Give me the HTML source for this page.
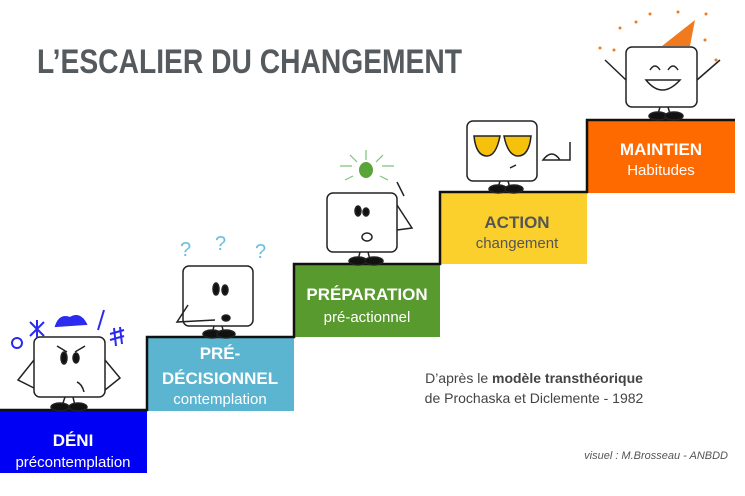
<!DOCTYPE html>
<html><head><meta charset="utf-8"><style>
html,body{margin:0;padding:0;background:#fff;width:745px;height:496px;overflow:hidden}
svg{display:block;font-family:"Liberation Sans",sans-serif}
</style></head><body>
<svg width="745" height="496" viewBox="0 0 745 496">
<text x="37" y="73" font-size="34" font-weight="bold" fill="#555a5e" textLength="425" lengthAdjust="spacingAndGlyphs">L’ESCALIER DU CHANGEMENT</text>

<!-- steps -->
<rect x="0" y="410" width="147" height="63" fill="#0000f5"/>
<rect x="147" y="337" width="147" height="74" fill="#5bb5d0"/>
<rect x="294" y="264" width="146" height="73" fill="#599a2e"/>
<rect x="440" y="192" width="147" height="72" fill="#fcd02c"/>
<rect x="587" y="120" width="148" height="73" fill="#ff6a00"/>
<polyline points="0,410 147,410 147,337 294,337 294,264 440,264 440,192 587,192 587,120 735,120" fill="none" stroke="#111" stroke-width="2.5"/>

<g text-anchor="middle" fill="#fff">
<text x="73" y="446" font-size="17" font-weight="bold">DÉNI</text>
<text x="73" y="467" font-size="15">précontemplation</text>
<text x="220" y="359" font-size="17" font-weight="bold">PRÉ-</text>
<text x="220" y="384" font-size="17" font-weight="bold">DÉCISIONNEL</text>
<text x="220" y="404" font-size="15">contemplation</text>
<text x="367" y="300" font-size="17" font-weight="bold">PRÉPARATION</text>
<text x="367" y="322" font-size="15">pré-actionnel</text>
<text x="517" y="228" font-size="17" font-weight="bold" fill="#555">ACTION</text>
<text x="517" y="248" font-size="15" fill="#555">changement</text>
<text x="661" y="155" font-size="17" font-weight="bold">MAINTIEN</text>
<text x="661" y="175" font-size="15">Habitudes</text>
</g>

<text x="534" y="383" text-anchor="middle" font-size="14" fill="#444">D’après le <tspan font-weight="bold">modèle transthéorique</tspan></text>
<text x="534" y="403" text-anchor="middle" font-size="14" fill="#444">de Prochaska et Diclemente - 1982</text>
<text x="728" y="459" text-anchor="end" font-size="11" font-style="italic" fill="#555">visuel : M.Brosseau - ANBDD</text>

<!-- characters -->
<g stroke="#222" stroke-width="1.5" fill="#fff">
<!-- deni -->
<g>
<line x1="65" y1="397" x2="62" y2="406"/><line x1="73" y1="397" x2="75" y2="406"/>
<ellipse cx="60" cy="407" rx="9" ry="4" fill="#111"/><ellipse cx="78" cy="407" rx="9" ry="4" fill="#111"/>
<polyline points="34,360 18,380 34,388" fill="none"/><polyline points="105,360 120,378 105,390" fill="none"/>
<rect x="34" y="337" width="71" height="60" rx="6"/>
<ellipse cx="64" cy="358" rx="3" ry="6" fill="#111"/><ellipse cx="76" cy="358" rx="3" ry="5" fill="#111"/>
<path d="M57 346 L67 352 M85 346 L75 352 M77 382 Q82 384 84 392" fill="none"/>
</g>
<g fill="none" stroke="#2a2af0" stroke-width="2">
<circle cx="17" cy="343" r="5"/><path d="M30 322 L44 336 M44 322 L30 336 M37 320 V338"/>
<path d="M56 326 Q60 314 70 318 Q80 312 86 324 Z" fill="#2a2af0"/>
<path d="M104 310 L98 330"/><path d="M110 334 L124 330 M110 340 L124 336 M114 328 L116 346 M120 327 L122 344"/>
</g>
<!-- pre-dec -->
<g>
<line x1="214" y1="326" x2="212" y2="334"/><line x1="222" y1="326" x2="224" y2="334"/>
<ellipse cx="212" cy="334" rx="9" ry="4" fill="#111"/><ellipse cx="226" cy="334" rx="9" ry="4" fill="#111"/>
<rect x="183" y="266" width="70" height="60" rx="6"/>
<polyline points="188,305 177,322 215,320" fill="none"/>
<ellipse cx="216" cy="289" rx="3" ry="6" fill="#111"/><ellipse cx="225" cy="290" rx="3" ry="5" fill="#111"/>
<ellipse cx="226" cy="318" rx="4" ry="3" fill="#111"/>
</g>
<g fill="#6cc0df" font-size="20" stroke="none"><text x="180" y="256">?</text><text x="215" y="250">?</text><text x="255" y="258">?</text></g>
<!-- prep -->
<g>
<line x1="360" y1="252" x2="358" y2="260"/><line x1="368" y1="252" x2="370" y2="260"/>
<ellipse cx="358" cy="261" rx="9" ry="4" fill="#111"/><ellipse cx="374" cy="261" rx="9" ry="4" fill="#111"/>
<polyline points="397,205 412,228 397,230" fill="none"/><line x1="397" y1="182" x2="404" y2="196"/>
<rect x="327" y="193" width="70" height="59" rx="6"/>
<ellipse cx="358" cy="211" rx="3" ry="5" fill="#111"/><ellipse cx="366" cy="212" rx="3" ry="4" fill="#111"/>
<ellipse cx="367" cy="237" rx="5" ry="4" fill="none"/>
</g>
<g stroke="#7ac47a" stroke-width="1.2"><path d="M366 150 V160 M350 155 L357 162 M383 155 L376 162 M340 166 H352 M382 166 H394 M345 180 L353 176 M388 180 L380 176"/></g>
<ellipse cx="366" cy="170" rx="7" ry="8" fill="#5aa53a" stroke="none"/>
<!-- action -->
<g>
<line x1="500" y1="181" x2="498" y2="188"/><line x1="508" y1="181" x2="510" y2="188"/>
<ellipse cx="498" cy="189" rx="9" ry="4" fill="#111"/><ellipse cx="514" cy="189" rx="9" ry="4" fill="#111"/>
<path d="M543 160 Q552 148 560 160 Z M560 160 H570 V142" fill="none"/>
<rect x="467" y="121" width="70" height="60" rx="6"/>
<path d="M474 136 H500 Q496 156 487 156 Q476 156 474 136 Z M504 136 H531 Q529 156 518 156 Q508 156 504 136 Z" fill="#f5c10b"/>
<line x1="510" y1="168" x2="516" y2="165"/>
</g>
<!-- maintien -->
<g>
<line x1="660" y1="107" x2="658" y2="114"/><line x1="668" y1="107" x2="670" y2="114"/>
<ellipse cx="658" cy="116" rx="9" ry="4" fill="#111"/><ellipse cx="674" cy="116" rx="9" ry="4" fill="#111"/>
<line x1="626" y1="80" x2="605" y2="60"/><line x1="697" y1="80" x2="720" y2="60"/>
<rect x="626" y="47" width="71" height="60" rx="6"/>
<path d="M650 70 Q655 62 660 70 M668 70 Q673 62 678 70" fill="none"/>
<path d="M646 80 Q662 100 680 80 Z" fill="#fff"/>
</g>
<path d="M662 46 L695 20 L690 46 Z" fill="#f07a1e" stroke="none"/>
<g fill="#f07a1e" stroke="none">
<circle cx="600" cy="48" r="1.5"/><circle cx="620" cy="28" r="1.5"/><circle cx="636" cy="22" r="1.5"/><circle cx="650" cy="14" r="1.5"/><circle cx="678" cy="12" r="1.5"/><circle cx="706" cy="14" r="1.5"/><circle cx="705" cy="40" r="1.5"/><circle cx="716" cy="60" r="1.5"/><circle cx="614" cy="50" r="1.5"/>
</g>
</g>
</svg>
</body></html>
